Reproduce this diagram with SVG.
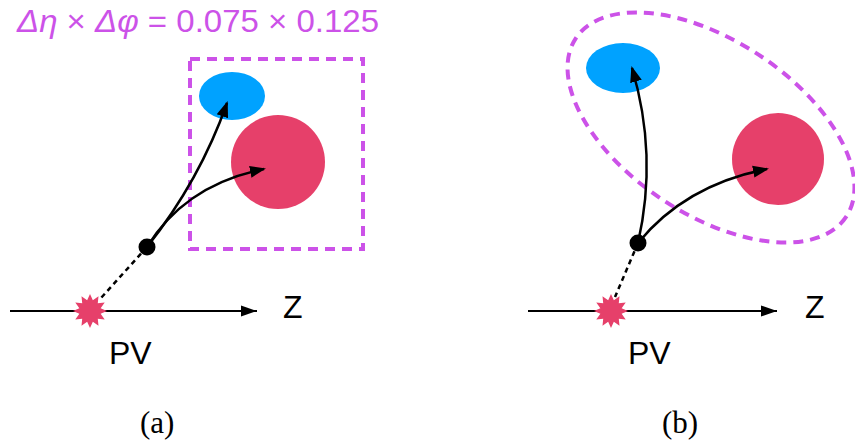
<svg xmlns="http://www.w3.org/2000/svg" width="855" height="443" viewBox="0 0 855 443">
<style>
.sans{font-family:"Liberation Sans",Arial,sans-serif;fill:#000}
.serif{font-family:"Liberation Serif","Times New Roman",serif;fill:#000}
.region{fill:none;stroke:#CC52E8;stroke-width:4;stroke-dasharray:10 7}
.track{fill:none;stroke:#000;stroke-width:2.5;marker-end:url(#ah)}
.axis{fill:none;stroke:#000;stroke-width:2.2;marker-end:url(#axh)}
.disp{fill:none;stroke:#000;stroke-width:2.5;stroke-dasharray:5 4}
.blue{fill:#00A2FF}
.red{fill:#E6406A}
</style>
<defs>
<marker id="ah" markerUnits="userSpaceOnUse" markerWidth="16" markerHeight="14" viewBox="0 0 16 14" refX="14" refY="7" orient="auto">
<path d="M0,1 L16,7 L0,13 Z" fill="#000"/>
</marker>
<marker id="axh" markerUnits="userSpaceOnUse" markerWidth="16" markerHeight="14" viewBox="0 0 16 14" refX="16" refY="7" orient="auto">
<path d="M0,1.5 L16,7 L0,12.5 Z" fill="#000"/>
</marker>
<polygon id="star" points="0,-17 2.85,-10.63 8.5,-14.72 7.78,-7.78 14.72,-8.5 10.63,-2.85 17,0 10.63,2.85 14.72,8.5 7.78,7.78 8.5,14.72 2.85,10.63 0,17 -2.85,10.63 -8.5,14.72 -7.78,7.78 -14.72,8.5 -10.63,2.85 -17,0 -10.63,-2.85 -14.72,-8.5 -7.78,-7.78 -8.5,-14.72 -2.85,-10.63"/>
</defs>

<text x="17" y="32" font-size="32" textLength="362" lengthAdjust="spacingAndGlyphs" class="sans" style="fill:#CC52E8"><tspan font-style="italic">Δη</tspan> × <tspan font-style="italic">Δφ</tspan> = 0.075 × 0.125</text>

<g id="panel-a">
<rect id="region-a" class="region" x="190" y="59" width="173" height="190"/>
<g id="blue-a"><ellipse class="blue" cx="232" cy="96" rx="33" ry="24"/></g>
<g id="red-a"><circle class="red" cx="278" cy="162" r="47"/></g>
<g id="axis-a"><line class="axis" x1="10" y1="311" x2="257" y2="311"/></g>
<g id="pv-a"><use href="#star" class="red" transform="translate(90,311)"/></g>
<g id="vertex-a"><circle cx="147" cy="247" r="8.5" fill="#000"/></g>
<text x="283" y="318" font-size="32" class="sans">Z</text>
<text x="109" y="364" font-size="32" class="sans">PV</text>
<text x="140" y="433" font-size="31" class="serif">(a)</text>
</g>

<g id="panel-b">
<ellipse id="region-b" class="region" cx="711" cy="127.5" rx="162" ry="87" transform="rotate(33.4 711 127.5)"/>
<g id="blue-b"><ellipse class="blue" cx="623" cy="68" rx="37" ry="25"/></g>
<g id="red-b"><circle class="red" cx="778" cy="159" r="46"/></g>
<g id="axis-b"><line class="axis" x1="528" y1="311" x2="777" y2="311"/></g>
<g id="pv-b"><use href="#star" class="red" transform="translate(611,311)"/></g>
<g id="vertex-b"><circle cx="638" cy="243" r="8.5" fill="#000"/></g>
<text x="805" y="318" font-size="32" class="sans">Z</text>
<text x="628" y="364" font-size="32" class="sans">PV</text>
<text x="662" y="433" font-size="31" class="serif">(b)</text>
</g>

<g id="connectors">
<path class="disp" d="M147,247 L101,298"/>
<path class="track" d="M147,247 Q200,180 227,103"/>
<path class="track" d="M147,247 Q185,185 264,169"/>
<path class="disp" d="M638,243 L615,297"/>
<path class="track" d="M638,243 Q658,155 632,68"/>
<path class="track" d="M638,243 Q685,185 767,169"/>
</g>
</svg>
